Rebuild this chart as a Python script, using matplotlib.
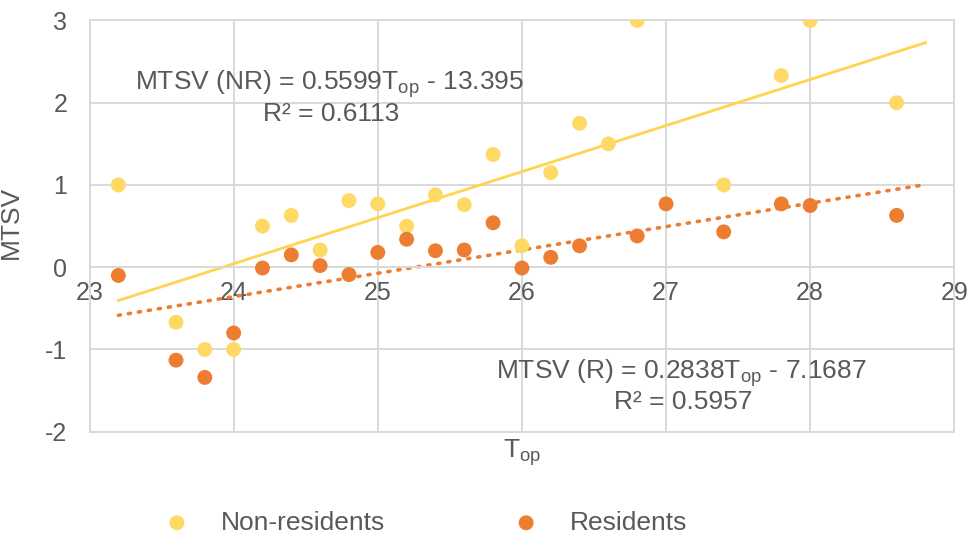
import numpy as np
import matplotlib
matplotlib.use("Agg")
import matplotlib.pyplot as plt

plt.rcParams['font.family'] = ['Liberation Sans', 'DejaVu Sans']
plt.rcParams['axes.unicode_minus'] = False

# Operative temperature (°C) and mean thermal sensation votes
top_nonres = [23.2, 23.6, 23.8, 24.0, 24.2, 24.4, 24.6, 24.8, 25.0, 25.2, 25.4,
              25.6, 25.8, 26.0, 26.2, 26.4, 26.6, 26.8, 27.4, 27.8, 28.0, 28.6]
mtsv_nonres = [1.0, -0.67, -1.0, -1.0, 0.50, 0.63, 0.21, 0.81, 0.77, 0.50, 0.88,
               0.76, 1.37, 0.26, 1.15, 1.75, 1.50, 3.0, 1.0, 2.33, 3.0, 2.0]

top_res = [23.2, 23.6, 23.8, 24.0, 24.2, 24.4, 24.6, 24.8, 25.0, 25.2, 25.4,
           25.6, 25.8, 26.0, 26.2, 26.4, 26.8, 27.0, 27.4, 27.8, 28.0, 28.6]
mtsv_res = [-0.10, -1.13, -1.34, -0.80, -0.01, 0.15, 0.02, -0.09, 0.18, 0.34, 0.20,
            0.21, 0.54, -0.01, 0.12, 0.26, 0.38, 0.77, 0.43, 0.77, 0.75, 0.63]

# Linear trendlines (slope, intercept, R²)
fit_nonres = (0.5599, -13.395, 0.6113)
fit_res = (0.2838, -7.1687, 0.5957)
trend_range = (23.2, 28.8)

xticks = [23, 24, 25, 26, 27, 28, 29]
yticks = [-2, -1, 0, 1, 2, 3]

c_nonres = '#FFD966'
c_nonres_line = '#FFD44F'
c_res = '#ED7D31'
grid_c = '#D9D9D9'
text_c = '#595959'
fs = 19

fig = plt.figure(figsize=(9.7, 5.38), dpi=100)
ax = fig.add_axes([0.0923, 0.1976, 0.8915, 0.7643])

ax.set_xlim(23, 29)
ax.set_ylim(-2, 3)
ax.set_xticks(xticks)
ax.set_yticks(yticks)
ax.grid(True, color=grid_c, linewidth=1.4, zorder=0)
ax.set_axisbelow(True)

for side in ['top', 'left', 'right']:
    ax.spines[side].set_color(grid_c)
    ax.spines[side].set_linewidth(1.4)
ax.spines['bottom'].set_position(('data', 0))
ax.spines['bottom'].set_color(grid_c)
ax.spines['bottom'].set_linewidth(1.4)
ax.axhline(-2, color=grid_c, linewidth=1.4, clip_on=False, zorder=0)

ax.tick_params(axis='both', length=0, labelsize=18, colors=text_c)
ax.tick_params(axis='x', pad=10)
ax.tick_params(axis='y', pad=16)

xs = np.array(trend_range)
ax.plot(xs, fit_nonres[0] * xs + fit_nonres[1], color=c_nonres_line,
        linewidth=2.0, zorder=2)
ax.plot(xs, fit_res[0] * xs + fit_res[1], color=c_res, linewidth=2.6,
        linestyle=(0, (0.6, 2.2)), dash_capstyle='round', zorder=2)

ax.scatter(top_nonres, mtsv_nonres, s=115, color=c_nonres, edgecolors='none',
           zorder=3, label='Non-residents')
ax.scatter(top_res, mtsv_res, s=115, color=c_res, edgecolors='none',
           zorder=3, label='Residents')

ax.set_xlabel('T$_{\\mathregular{op}}$', fontsize=fs, color=text_c)
ax.xaxis.set_label_coords(0.5, -0.012)
ax.set_ylabel('MTSV', fontsize=fs, color=text_c)
ax.yaxis.set_label_coords(-0.077, 0.508)

ax.text(0.278, 0.845,
        'MTSV (NR) = %.4fT$_{\\mathregular{op}}$ - %.3f' % (fit_nonres[0], -fit_nonres[1]),
        transform=ax.transAxes, fontsize=fs, color=text_c, ha='center', va='center')
ax.text(0.279, 0.772, 'R² = %.4f' % fit_nonres[2],
        transform=ax.transAxes, fontsize=fs, color=text_c, ha='center', va='center')
ax.text(0.684, 0.142,
        'MTSV (R) = %.4fT$_{\\mathregular{op}}$ - %.4f' % (fit_res[0], -fit_res[1]),
        transform=ax.transAxes, fontsize=fs, color=text_c, ha='center', va='center')
ax.text(0.686, 0.072, 'R² = %.4f' % fit_res[2],
        transform=ax.transAxes, fontsize=fs, color=text_c, ha='center', va='center')

fig.legend(loc='center', bbox_to_anchor=(0.432, 0.0284), ncol=2, frameon=False,
           fontsize=fs, labelcolor=text_c, handlelength=2.0, handletextpad=0.67,
           columnspacing=4.34, scatterpoints=1)

fig.savefig('out.png', dpi=100, facecolor='white')
